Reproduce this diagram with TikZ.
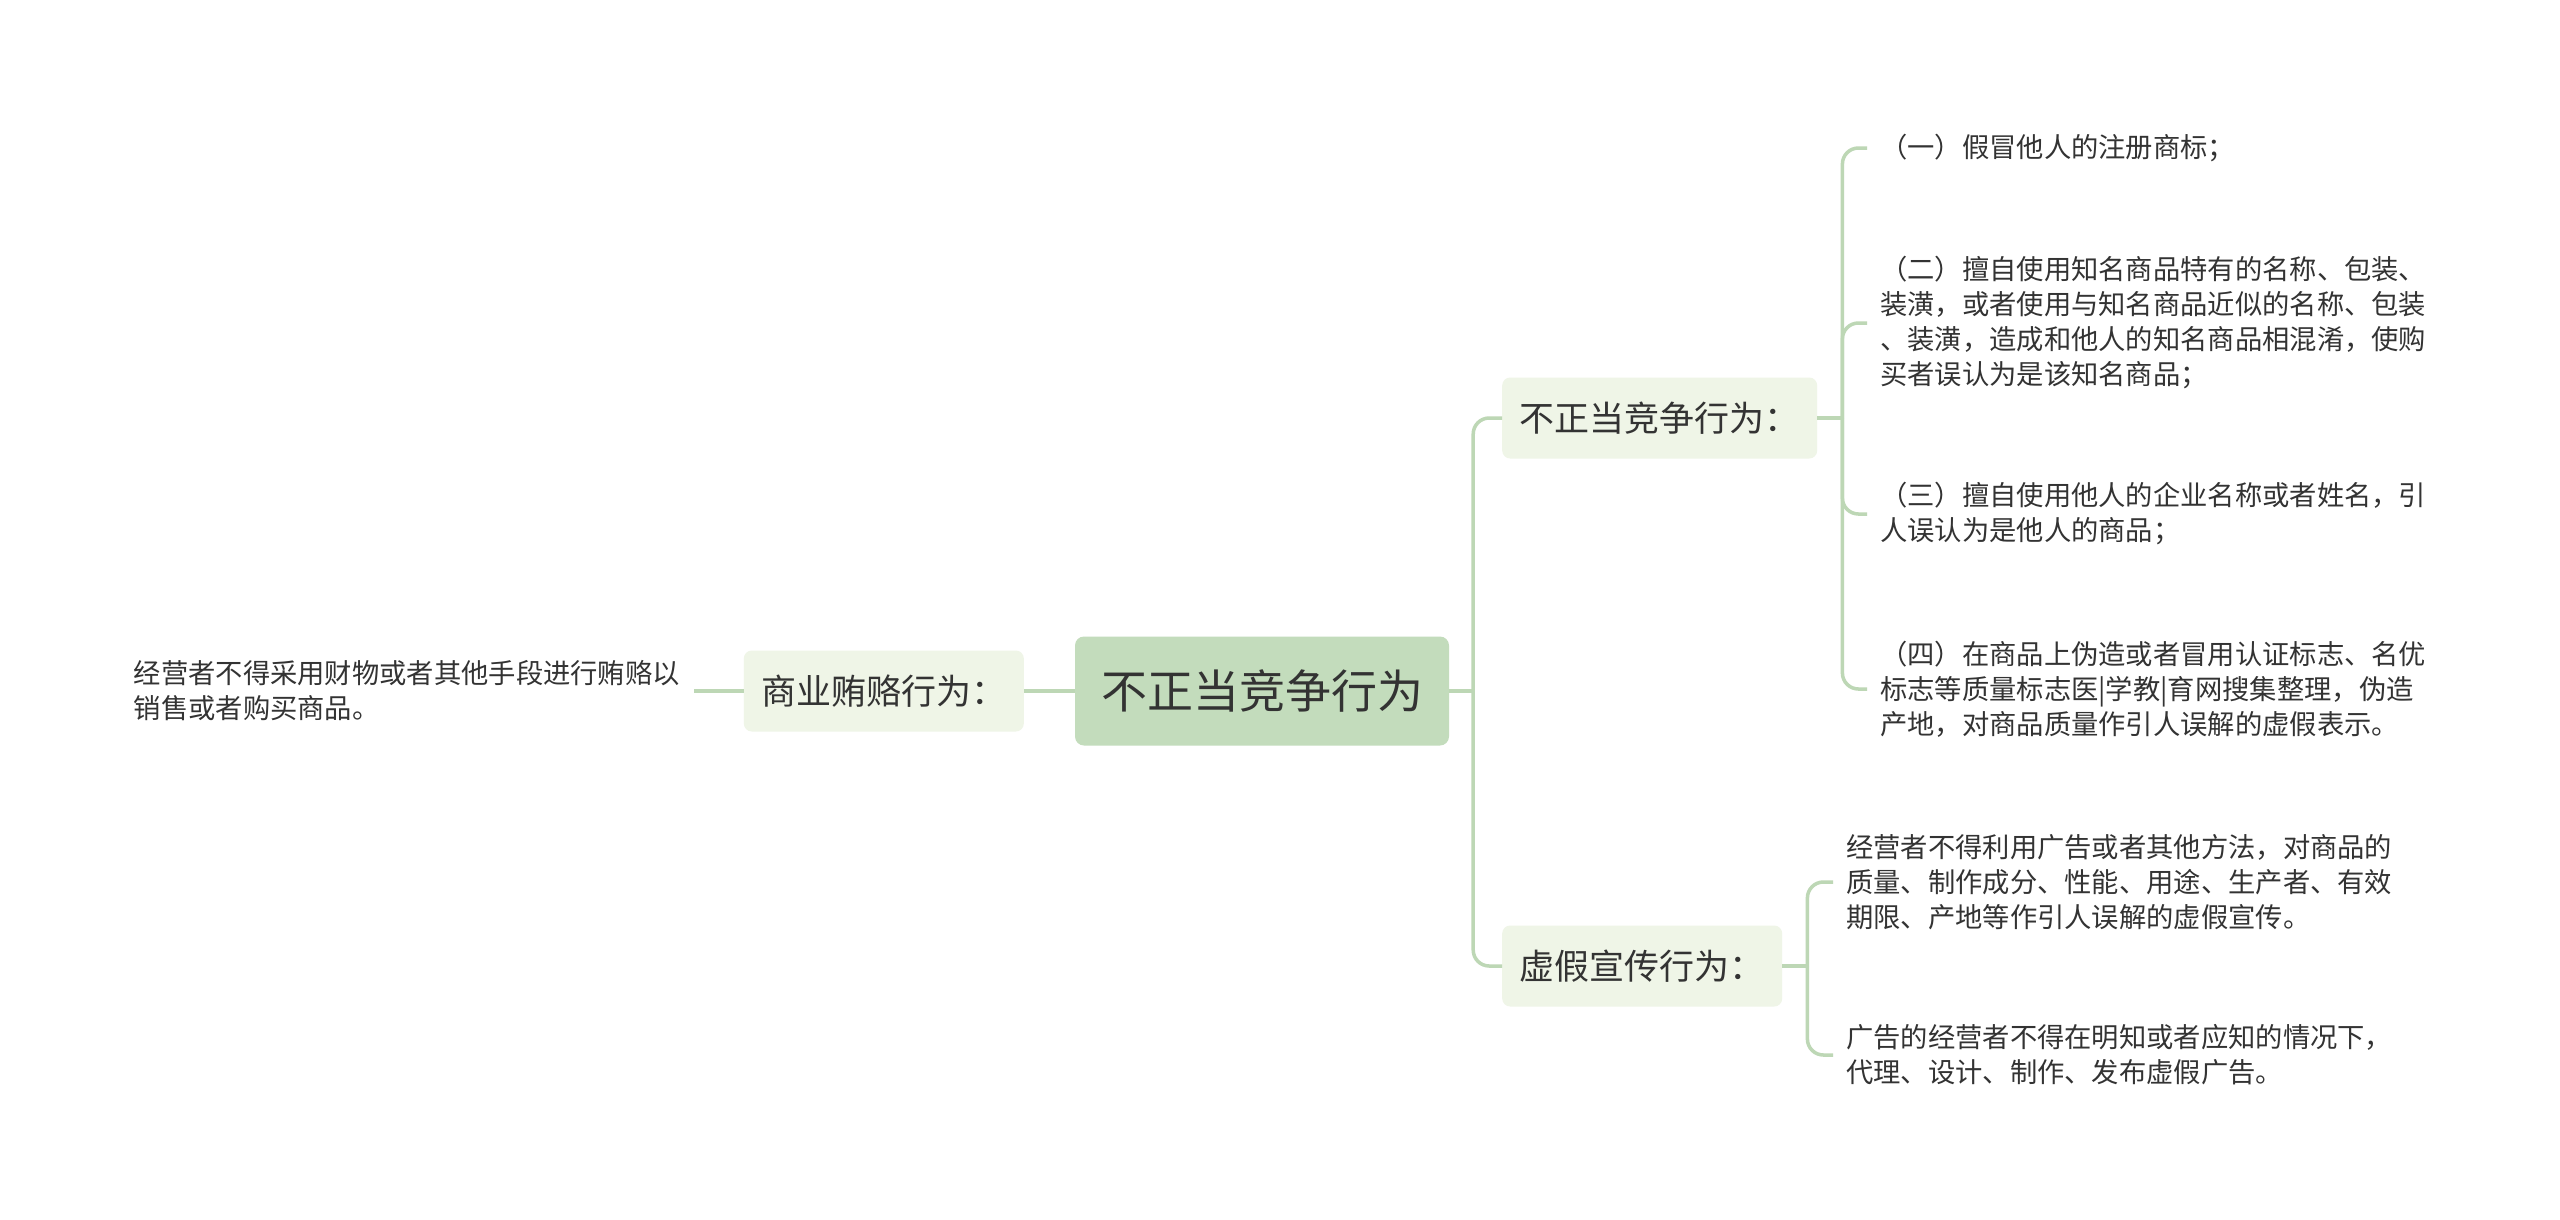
\documentclass[tikz,border=0pt]{standalone}
\usepackage{fontspec}
\setmainfont{Noto Sans CJK SC}
\usetikzlibrary{positioning}
\definecolor{rootfill}{HTML}{C3DCBC}
\definecolor{subfill}{HTML}{EFF5E7}
\definecolor{linkcol}{HTML}{BDD7B5}
\definecolor{txtcol}{HTML}{333333}
\tikzset{
  rootbox/.style={fill=rootfill, rounded corners=9pt, text=txtcol, minimum height=109pt,
    inner xsep=26pt, font=\fontsize{46}{55}\selectfont},
  subbox/.style={fill=subfill, rounded corners=8pt, text=txtcol, minimum height=81pt,
    inner xsep=17.5pt, font=\fontsize{35}{42}\selectfont},
  leaf/.style={text=txtcol, align=left, inner ysep=0pt, inner xsep=13pt,
    font=\fontsize{27.3}{35}\selectfont},
  link/.style={draw=linkcol, line width=3.5pt, rounded corners=16pt},
}

\begin{document}
\begin{tikzpicture}[x=1pt, y=-1pt]
% 1. 画布
\fill[white] (0,0) rectangle (2560,1219);
\useasboundingbox (0,0) rectangle (2560,1219);

% 2. 中心主题和分支
\node[rootbox] (root) at (1262,691) {不正当竞争行为};
\node[subbox, anchor=east] (bribe) at (1024,691) {商业贿赂行为：};
\node[subbox, anchor=west] (unfair) at (1502,418) {不正当竞争行为：};
\node[subbox, anchor=west] (fake) at (1502,966) {虚假宣传行为：};

% 3. 叶子
\node[leaf, anchor=east, inner xsep=14pt] (bribe1) at (694,691)
  {经营者不得采用财物或者其他手段进行贿赂以\\销售或者购买商品。};
\node[leaf, anchor=west] (unfair1) at (1867,148) {（一）假冒他人的注册商标；};
\node[leaf, anchor=west] (unfair2) at (1867,323)
  {（二）擅自使用知名商品特有的名称、包装、\\装潢，或者使用与知名商品近似的名称、包装\\、装潢，造成和他人的知名商品相混淆，使购\\买者误认为是该知名商品；};
\node[leaf, anchor=west] (unfair3) at (1867,514)
  {（三）擅自使用他人的企业名称或者姓名，引\\人误认为是他人的商品；};
\node[leaf, anchor=west] (unfair4) at (1867,689)
  {（四）在商品上伪造或者冒用认证标志、名优\\标志等质量标志医|学教|育网搜集整理，伪造\\产地，对商品质量作引人误解的虚假表示。};
\node[leaf, anchor=west] (fake1) at (1833,882)
  {经营者不得利用广告或者其他方法，对商品的\\质量、制作成分、性能、用途、生产者、有效\\期限、产地等作引人误解的虚假宣传。};
\node[leaf, anchor=west] (fake2) at (1833,1055)
  {广告的经营者不得在明知或者应知的情况下，\\代理、设计、制作、发布虚假广告。};

% 4. 连线
\draw[link] (root.west) -- (bribe.east);
\draw[link] (bribe.west) -- (bribe1.east);
\coordinate (j0) at ([xshift=24pt]root.east);
\draw[link] (root.east) -- (j0);
\foreach \n in {unfair, fake}
    {\draw[link] (j0) |- (\n.west);}
\coordinate (j1) at ([xshift=25pt]unfair.east);
\draw[link] (unfair.east) -- (j1);
\foreach \n in {unfair1, unfair2, unfair3, unfair4}
    {\draw[link] (j1) |- (\n.west);}
\coordinate (j2) at ([xshift=25pt]fake.east);
\draw[link] (fake.east) -- (j2);
\foreach \n in {fake1, fake2}
    {\draw[link] (j2) |- (\n.west);}
\end{tikzpicture}
\end{document}
